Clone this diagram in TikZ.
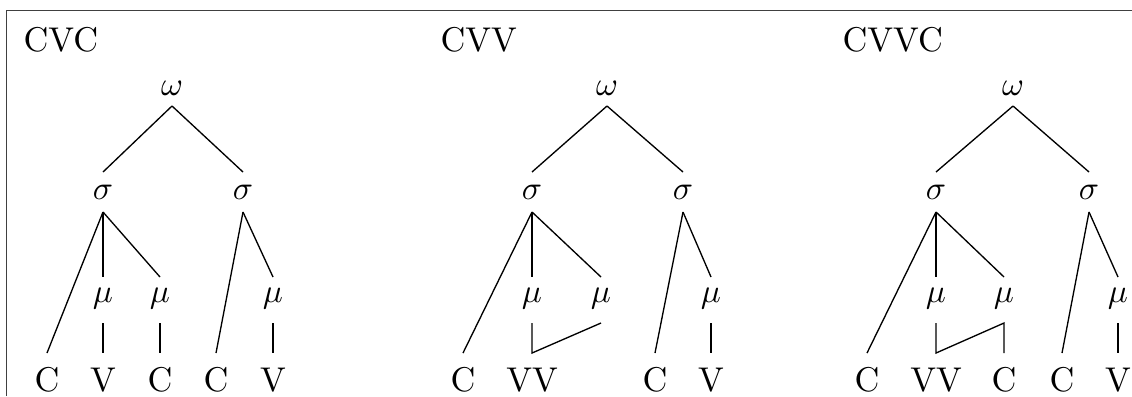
\documentclass[tikz,border=0pt]{standalone}
\begin{document}
\begin{tikzpicture}[x=0.3pt,y=-0.3pt,
  font=\fontsize{10.3}{12}\selectfont,
  lbl/.style={inner sep=0pt,outer sep=0pt,anchor=base},
  wlev/.style={lbl,text height=4.5pt,text depth=3.3pt},
  slev/.style={lbl,text height=8.1pt,text depth=3.9pt},
  mlev/.style={lbl,text height=7.5pt,text depth=6.3pt},
  blev/.style={lbl,text height=11.4pt,text depth=0pt},
  ttl/.style={inner sep=0pt,anchor=base west},
  edge/.style={line width=0.4pt,black},
  frame/.style={line width=0.5pt,black!75}]
\useasboundingbox (0,0) rectangle (1132,396);
\coordinate (fa) at (6.5,396);
\coordinate (fb) at (6.5,10.5);
\coordinate (fc) at (1132,10.5);
\draw[frame] (fa) -- (fb) -- (fc);
% titles
\node[ttl] (t1) at (23,51) {CVC};
\node[ttl] (t2) at (440,51) {CVV};
\node[ttl] (t3) at (842,51) {CVVC};
% ---- tree 1: CVC
\node[wlev] (w1) at (172,95) {$\omega$};
\node[slev] (s1a) at (103,199) {$\sigma$};
\node[slev] (s1b) at (243,199) {$\sigma$};
\node[mlev] (m1a) at (103,302) {$\mu$};
\node[mlev] (m1b) at (160,302) {$\mu$};
\node[mlev] (m1c) at (273,302) {$\mu$};
\node[blev] (b1a) at (47,391) {C};
\node[blev] (b1b) at (103,391) {V};
\node[blev] (b1c) at (160,391) {C};
\node[blev] (b1d) at (216,391) {C};
\node[blev] (b1e) at (273,391) {V};
\draw[edge] (w1.south) -- (s1a.north);
\draw[edge] (w1.south) -- (s1b.north);
\draw[edge] (s1a.south) -- (b1a.north);
\draw[edge] (s1a.south) -- (m1a.north);
\draw[edge] (s1a.south) -- (m1b.north);
\draw[edge] (m1a.south) -- (b1b.north);
\draw[edge] (m1b.south) -- (b1c.north);
\draw[edge] (s1b.south) -- (b1d.north);
\draw[edge] (s1b.south) -- (m1c.north);
\draw[edge] (m1c.south) -- (b1e.north);
% ---- tree 2: CVV
\node[wlev] (w2) at (607,95) {$\omega$};
\node[slev] (s2a) at (532,199) {$\sigma$};
\node[slev] (s2b) at (683,199) {$\sigma$};
\node[mlev] (m2a) at (532,302) {$\mu$};
\node[mlev] (m2b) at (601,302) {$\mu$};
\node[mlev] (m2c) at (711,302) {$\mu$};
\node[blev] (b2a) at (463,391) {C};
\node[blev] (b2b) at (532,391) {VV};
\node[blev] (b2c) at (655,391) {C};
\node[blev] (b2d) at (711,391) {V};
\draw[edge] (w2.south) -- (s2a.north);
\draw[edge] (w2.south) -- (s2b.north);
\draw[edge] (s2a.south) -- (b2a.north);
\draw[edge] (s2a.south) -- (m2a.north);
\draw[edge] (s2a.south) -- (m2b.north);
\draw[edge] (m2a.south) -- (b2b.north) -- (m2b.south);
\draw[edge] (s2b.south) -- (b2c.north);
\draw[edge] (s2b.south) -- (m2c.north);
\draw[edge] (m2c.south) -- (b2d.north);
% ---- tree 3: CVVC
\node[wlev] (w3) at (1013,95) {$\omega$};
\node[slev] (s3a) at (936,199) {$\sigma$};
\node[slev] (s3b) at (1089,199) {$\sigma$};
\node[mlev] (m3a) at (936,302) {$\mu$};
\node[mlev] (m3b) at (1004,302) {$\mu$};
\node[mlev] (m3c) at (1118,302) {$\mu$};
\node[blev] (b3a) at (867,391) {C};
\node[blev] (b3b) at (936,391) {VV};
\node[blev] (b3c) at (1004,391) {C};
\node[blev] (b3d) at (1062,391) {C};
\node[blev] (b3e) at (1118,391) {V};
\draw[edge] (w3.south) -- (s3a.north);
\draw[edge] (w3.south) -- (s3b.north);
\draw[edge] (s3a.south) -- (b3a.north);
\draw[edge] (s3a.south) -- (m3a.north);
\draw[edge] (s3a.south) -- (m3b.north);
\draw[edge] (m3a.south) -- (b3b.north) -- (m3b.south) -- (b3c.north);
\draw[edge] (s3b.south) -- (b3d.north);
\draw[edge] (s3b.south) -- (m3c.north);
\draw[edge] (m3c.south) -- (b3e.north);
\end{tikzpicture}
\end{document}
